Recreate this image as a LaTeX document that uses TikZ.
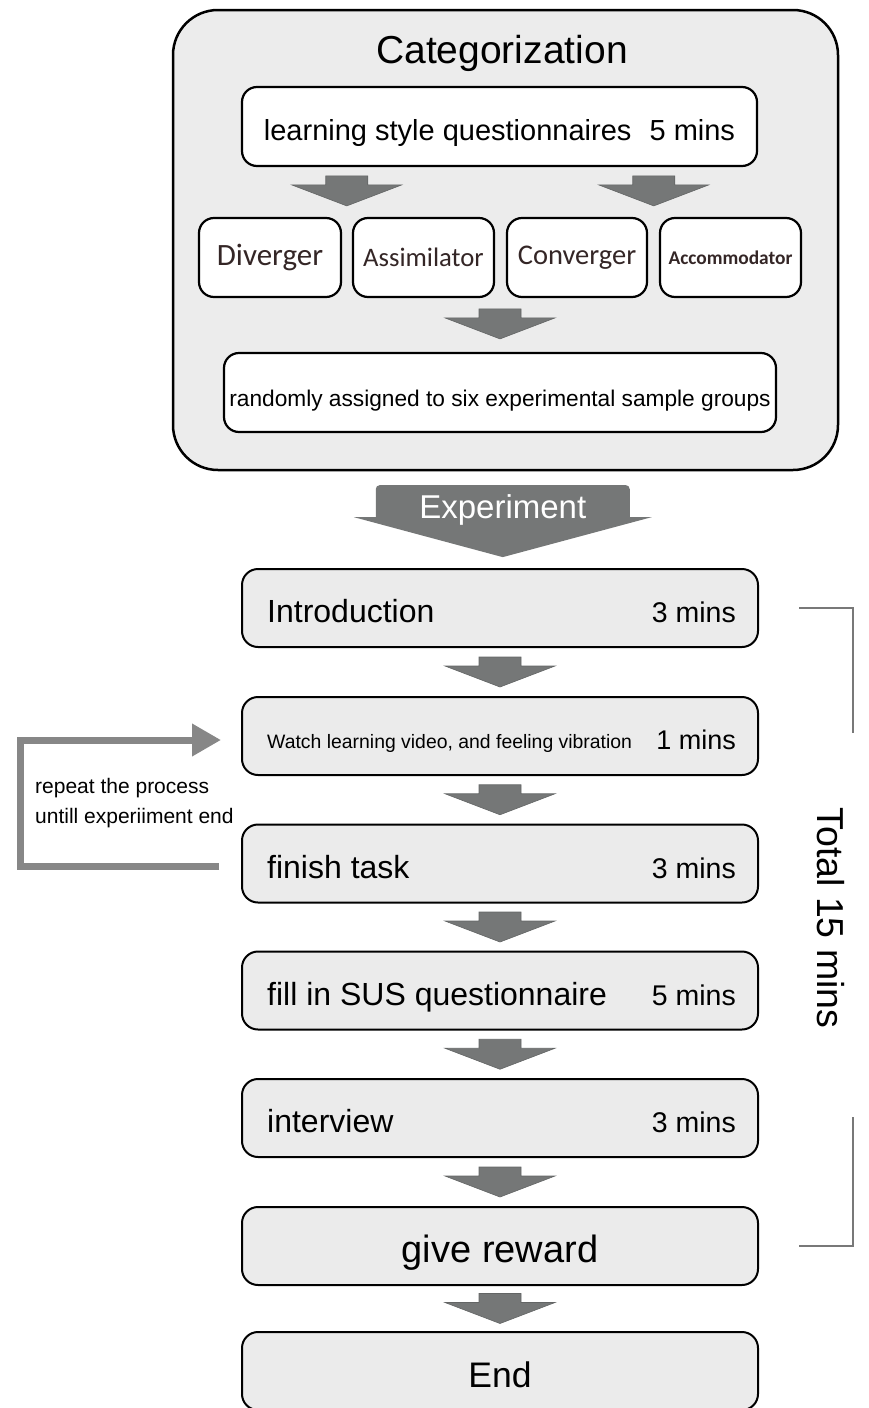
\documentclass[tikz,border=0pt]{standalone}
\usepackage{fontspec}
\setmainfont{Liberation Sans}
\newfontfamily\catfont{Carlito}
\usetikzlibrary{calc,arrows.meta}
\definecolor{panelgray}{RGB}{236,236,236}
\definecolor{stepgray}{RGB}{235,235,235}
\definecolor{arrowgray}{RGB}{117,119,119}
\definecolor{loopgray}{RGB}{135,135,135}
\definecolor{bracketgray}{RGB}{120,120,120}
\definecolor{catbrown}{RGB}{52,38,38}

\begin{document}
\begin{tikzpicture}[x=1pt, y=-1pt,
  panel/.style={draw=black, line width=2.5pt, fill=panelgray, rounded corners=45pt, minimum width=665pt, minimum height=460pt},
  whitebox/.style={draw=black, line width=2.2pt, fill=white, rounded corners=15pt, minimum height=79pt, inner sep=0pt},
  stepbox/.style={draw=black, line width=2pt, fill=stepgray, rounded corners=16pt, minimum width=516pt, minimum height=78pt},
  catword/.style={font=\catfont\fontsize{#1}{#1}\selectfont, text=catbrown},
  steplabel/.style={font=\fontsize{32}{32}\selectfont, inner sep=0pt, anchor=base west},
  steptime/.style={font=\fontsize{28.5}{28.5}\selectfont, inner sep=0pt, anchor=base east},
  loopline/.style={draw=loopgray, line width=7pt, -{Triangle[length=29pt, width=31pt]}},
  bracketline/.style={draw=bracketgray, line width=2pt},
  blockarrow/.pic={\fill[arrowgray, draw=arrowgray!85!black, line width=0.6pt] (-21,-15) -- (21,-15) -- (21,-6) -- (55,-6) -- (0,15) -- (-55,-6) -- (-21,-6) -- cycle;}
]
  \useasboundingbox (0,0) rectangle (868,1408);
  \node[panel] (catbox) at (505.5,240) {};
  \node[font=\fontsize{39}{39}\selectfont, anchor=base] (cattitle) at (502,63) {Categorization};
  \node[whitebox, minimum width=515pt, text height=28pt, text depth=0pt, font=\fontsize{29}{29}\selectfont] (quest) at (499.5,126.5) {learning style questionnaires\hspace{0.35em} 5 mins};
  \node[whitebox, minimum width=142pt, catword=31] (div) at (270,257.5) {Diverger};
  \node[whitebox, minimum width=141pt, catword=26.7] (assim) at (423.5,257.5) {Assimilator};
  \node[whitebox, minimum width=140pt, catword=28.5] (conv) at (577,257.5) {Converger};
  \node[whitebox, minimum width=141pt, catword=19.4] (accom) at (730.5,257.5) {\bfseries Accommodator};
  \node[whitebox, minimum width=552pt, text height=27pt, text depth=0pt, font=\fontsize{22.7}{22.7}\selectfont] (rand) at (500,392.5) {randomly assigned to six experimental sample groups};

  \node[stepbox] (intro) at (500,608) {};
  \node[steplabel] (introtxt) at ($(intro.west)+(26,14.5)$) {Introduction};
  \node[steptime] (introtime) at ($(intro.east)+(-23,14.5)$) {3 mins};
  \node[stepbox] (watch) at (500,736) {};
  \node[steplabel, font=\fontsize{19.4}{19.4}\selectfont] (watchtxt) at ($(watch.west)+(26,12.5)$) {Watch learning video, and feeling vibration};
  \node[steptime, font=\fontsize{27}{27}\selectfont] (watchtime) at ($(watch.east)+(-23,13.5)$) {1 mins};
  \node[stepbox] (finish) at (500,863.5) {};
  \node[steplabel] (finishtxt) at ($(finish.west)+(26,14.5)$) {finish task};
  \node[steptime] (finishtime) at ($(finish.east)+(-23,14.5)$) {3 mins};
  \node[stepbox] (sus) at (500,990.5) {};
  \node[steplabel] (sustxt) at ($(sus.west)+(26,14.5)$) {fill in SUS questionnaire};
  \node[steptime] (sustime) at ($(sus.east)+(-23,14.5)$) {5 mins};
  \node[stepbox] (interview) at (500,1118) {};
  \node[steplabel] (interviewtxt) at ($(interview.west)+(26,14.5)$) {interview};
  \node[steptime] (interviewtime) at ($(interview.east)+(-23,14.5)$) {3 mins};
  \node[stepbox, text height=32pt, text depth=0pt, font=\fontsize{38}{38}\selectfont] (reward) at (500,1246) {give reward};
  \node[stepbox, text height=32pt, text depth=0pt, font=\fontsize{35.5}{35.5}\selectfont] (end) at (500,1371) {End};

  \pic at ($(div.north)!0.5!(assim.north)+(0,-26)$) {blockarrow};
  \pic at ($(conv.north)!0.5!(accom.north)+(0,-26)$) {blockarrow};
  \pic at ($(rand.north)+(0,-28)$) {blockarrow};
  \pic at ($(intro.south)!0.5!(watch.north)$) {blockarrow};
  \pic at ($(watch.south)!0.5!(finish.north)$) {blockarrow};
  \pic at ($(finish.south)!0.5!(sus.north)$) {blockarrow};
  \pic at ($(sus.south)!0.5!(interview.north)$) {blockarrow};
  \pic at ($(interview.south)!0.5!(reward.north)$) {blockarrow};
  \pic at ($(reward.south)!0.5!(end.north)$) {blockarrow};

  \coordinate (expmid) at ($(catbox.south)!0.5!(intro.north)$);
  \begin{scope}[shift={(expmid)}]
    \fill[arrowgray] (-149,-2.5) -- (-127,-2.5) [rounded corners=4pt] -- (-127,-34.5) -- (127,-34.5) [sharp corners] -- (127,-2.5) -- (149,-2.5) -- (0,37.5) -- cycle;
  \end{scope}
  \node[font=\fontsize{33}{33}\selectfont, text=white, anchor=base] (exp) at ($(expmid)+(0,-1.5)$) {Experiment};

  \coordinate (loopx) at (20,0);
  \coordinate (loopstart) at ($(finish.west)+(-22,2.5)$);
  \coordinate (loopend) at ($(watch.west)+(-20,4)$);
  \draw[loopline] (loopstart) -| (loopx |- loopend) -- (loopend);
  \node[font=\fontsize{21}{30}\selectfont, align=left, anchor=west, inner sep=0pt] (loopnote) at (35,803) {repeat the process\\untill experiiment end};

  \draw[bracketline] ($(intro.east)+(40,0)$) -- ($(intro.east)+(94,0)$) -- ++(0,125);
  \draw[bracketline] ($(reward.east)+(40,0)$) -- ($(reward.east)+(94,0)$) -- ++(0,-129);
  \node[rotate=-90, font=\fontsize{37.5}{37.5}\selectfont] (total) at (831,918) {Total 15 mins};
\end{tikzpicture}
\end{document}
